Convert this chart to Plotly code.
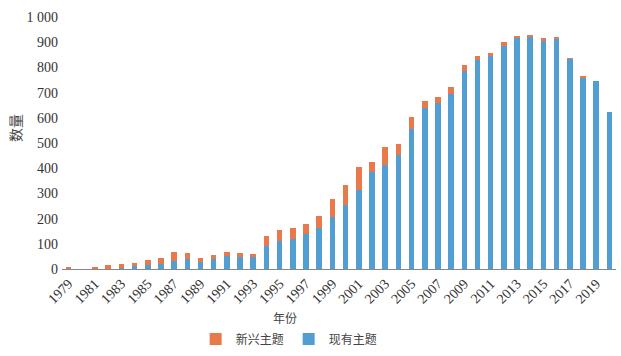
import plotly.graph_objects as go

years = list(range(1979, 2021))
existing = [1, 0, 1, 2, 5, 10, 14, 21, 31, 39, 29, 39, 52, 46, 49, 90, 112, 118, 139, 162,
            205, 255, 314, 383, 413, 452, 557, 638, 657, 694, 786, 830, 847, 885, 915, 923,
            908, 915, 836, 761, 745, 623]
emerging = [4, 0, 3, 13, 15, 14, 20, 21, 35, 23, 14, 15, 17, 19, 9, 39, 41, 43, 39, 50,
            71, 79, 90, 42, 70, 43, 45, 30, 25, 27, 24, 14, 10, 15, 8, 4,
            7, 4, 1, 2, 0, 0]
tick_years = list(range(1979, 2020, 2))
y_ticks = list(range(0, 1001, 100))
y_tick_text = [str(v) if v < 1000 else "1 000" for v in y_ticks]

serif = "Liberation Serif, Times New Roman, serif"
cjk = "Noto Sans CJK SC, Liberation Serif, serif"

fig = go.Figure()
fig.add_trace(go.Bar(x=years, y=existing, name="现有主题", marker_color="#519ED3",
                     marker_line_width=0))
fig.add_trace(go.Bar(x=years, y=emerging, name="新兴主题", marker_color="#E9784A",
                     marker_line_width=0))

fig.update_layout(
    width=621, height=356,
    barmode="stack", bargap=0.58,
    plot_bgcolor="white", paper_bgcolor="white",
    margin=dict(l=62, r=5, t=17, b=87, autoexpand=False),
    font=dict(family=serif, size=13, color="#333333"),
    showlegend=True,
    legend=dict(orientation="h", x=0.41, xanchor="center", y=-0.22, yanchor="top",
                traceorder="reversed", font=dict(family=cjk, size=12, color="#444444"),
                itemwidth=30, tracegroupgap=0),
    annotations=[
        dict(text="年份", x=(285 - 62) / 554, xref="paper", y=-0.15, yref="paper",
             yanchor="top", showarrow=False,
             font=dict(family=cjk, size=12, color="#444444")),
        dict(text="数量", x=(15 - 62) / 554, xref="paper", xanchor="center", y=0.56,
             yref="paper", yanchor="middle", showarrow=False, textangle=-90,
             font=dict(family=cjk, size=14, color="#444444")),
    ],
)
fig.update_xaxes(
    range=[1978.5, 2020.5], tickmode="array", tickvals=tick_years,
    ticktext=[str(y) for y in tick_years], tickangle=-45, automargin=False,
    showline=True, linecolor="#888888", linewidth=1, showgrid=False, ticks="",
    tickfont=dict(family=serif, size=14, color="#333333"),
)
fig.update_yaxes(
    range=[0, 1000], tickmode="array", tickvals=y_ticks, ticktext=y_tick_text,
    showgrid=False, zeroline=False, showline=False, ticks="", automargin=False,
    ticklabelstandoff=3,
    tickfont=dict(family=serif, size=14, color="#333333"),
)
fig.write_html("out.html", post_script="document.body.style.margin='0';",
               config={"displayModeBar": False})
